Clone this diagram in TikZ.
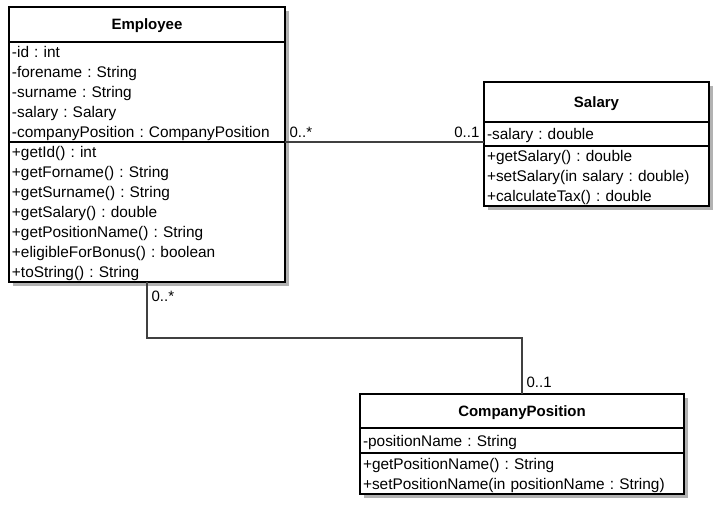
\documentclass[tikz,border=0pt]{standalone}
\usepackage{fontspec}
\setmainfont{Liberation Sans}
\usepackage{tikz}
\usetikzlibrary{positioning, shadows}
\frenchspacing

\tikzset{
    classpart/.style={draw, line width=1.3pt, fill=white, anchor=north west, align=left,
        inner xsep=3pt, inner ysep=0pt, outer sep=0pt, font=\fontsize{15.4}{20}\selectfont,
        execute at begin node={\rule{0pt}{15.5pt}}, execute at end node={\rule[-4.5pt]{0pt}{4.5pt}},
        drop shadow={shadow xshift=4pt, shadow yshift=-4pt, fill=black!30, opacity=1}},
    classname/.style={classpart, align=center, font=\fontsize{15}{20}\selectfont\bfseries},
    mult/.style={font=\fontsize{15}{18}\selectfont, inner sep=4pt},
    assoc/.style={line width=1.2pt, draw=black!75}
}

\begin{document}
\begin{tikzpicture}[x=1pt, y=-1pt]
        \useasboundingbox (0,0) rectangle (722,510);

        % Clase Employee
        \node[classname, text width=270pt, minimum height=35pt] (emptitle) at (9,7) {Employee};
        \node[classpart, text width=270pt, minimum height=100pt, below=0pt of emptitle] (empattr)
            {-id : int\\-forename : String\\-surname : String\\-salary : Salary\\-companyPosition : CompanyPosition};
        \node[classpart, text width=270pt, minimum height=140pt, below=0pt of empattr] (empops)
            {+getId() : int\\+getForname() : String\\+getSurname() : String\\+getSalary() : double\\+getPositionName() : String\\+eligibleForBonus() : boolean\\+toString() : String};

        % Clase Salary
        \node[classname, text width=219pt, minimum height=40pt] (saltitle) at (484,82) {Salary};
        \node[classpart, text width=219pt, minimum height=24pt, below=0pt of saltitle] (salattr)
            {-salary : double};
        \node[classpart, text width=219pt, minimum height=60pt, below=0pt of salattr] (salops)
            {+getSalary() : double\\+setSalary(in salary : double)\\+calculateTax() : double};

        % Clase CompanyPosition
        \node[classname, text width=318pt, minimum height=34pt] (cptitle) at (360,394) {CompanyPosition};
        \node[classpart, text width=318pt, minimum height=25pt, below=0pt of cptitle] (cpattr)
            {-positionName : String};
        \node[classpart, text width=318pt, minimum height=41pt, below=0pt of cpattr] (cpops)
            {+getPositionName() : String\\+setPositionName(in positionName : String)};

        % Asociaciones
        \draw[assoc] (empops.north east) -- (empops.north east -| salops.west)
            node[mult, pos=0, anchor=south west] (empmult1) {0..*}
            node[mult, pos=1, anchor=south east] (salmult) {0..1};
        \draw[assoc] (empops.south) -- ++(0,56)
            node[mult, pos=0, anchor=north west, yshift=-4pt] (empmult2) {0..*}
            -| (cptitle.north)
            node[mult, pos=1, anchor=south west, yshift=2pt] (cpmult) {0..1};
    \end{tikzpicture}
\end{document}
